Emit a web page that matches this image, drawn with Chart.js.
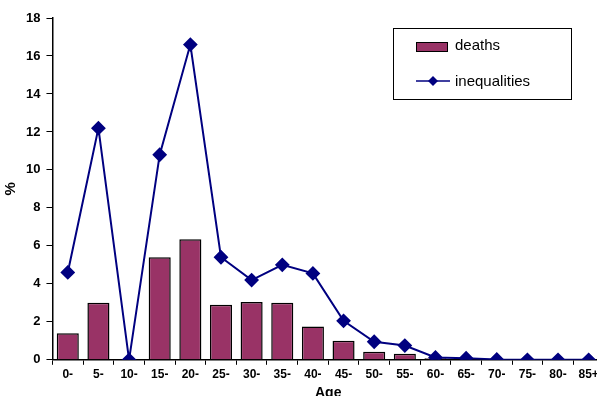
<!DOCTYPE html>
<html>
<head>
<meta charset="utf-8">
<script src="https://cdn.jsdelivr.net/npm/chart.js@4/dist/chart.umd.min.js"></script>
<style>
    html, body { margin: 0; padding: 0; background: #fff; overflow: hidden; }
    #wrap { position: relative; width: 612px; height: 402px; }
</style>
</head>
<body>
<div id="wrap"><canvas id="ageChart" width="612" height="402"></canvas></div>
<script>
var ageGroups = ['0-', '5-', '10-', '15-', '20-', '25-', '30-', '35-', '40-', '45-', '50-', '55-', '60-', '65-', '70-', '75-', '80-', '85+'];
var deaths = [1.4, 3.0, 0, 5.4, 6.35, 2.9, 3.05, 3.0, 1.75, 1.0, 0.42, 0.32, 0.08, 0.03, 0, 0, 0, 0];
var inequalities = [4.6, 12.2, 0, 10.8, 16.6, 5.4, 4.2, 5.0, 4.55, 2.05, 0.95, 0.75, 0.12, 0.08, 0.02, 0, 0, 0];
var yTicks = [0, 2, 4, 6, 8, 10, 12, 14, 16, 18];

// legend box drawn inside the plot, like the original
var boxLegend = {
    id: 'boxLegend',
    afterDraw: function(chart) {
        var ctx = chart.ctx;
        var ds = chart.data.datasets;
        ctx.save();
        ctx.strokeStyle = '#000';
        ctx.lineWidth = 1;
        ctx.strokeRect(393.5, 28.5, 178, 71);
        ctx.font = '15px "Liberation Sans", Arial, sans-serif';
        ctx.textBaseline = 'middle';
        // bars
        ctx.fillStyle = ds[1].backgroundColor;
        ctx.fillRect(416, 42, 32, 10);
        ctx.strokeRect(416.5, 42.5, 31, 9);
        ctx.fillStyle = '#000';
        ctx.fillText(ds[1].label, 455, 46);
        // line
        ctx.strokeStyle = ds[0].borderColor;
        ctx.lineWidth = 1.5;
        ctx.beginPath();
        ctx.moveTo(416, 81);
        ctx.lineTo(450, 81);
        ctx.stroke();
        ctx.fillStyle = ds[0].borderColor;
        ctx.beginPath();
        ctx.moveTo(433, 76); ctx.lineTo(438, 81); ctx.lineTo(433, 86); ctx.lineTo(428, 81);
        ctx.closePath();
        ctx.fill();
        ctx.fillStyle = '#000';
        ctx.fillText(ds[0].label, 455, 82);
        ctx.restore();
    }
};

document.addEventListener('DOMContentLoaded', function() {
    var ctx = document.getElementById('ageChart').getContext('2d');
    var chart = new Chart(ctx, {
        type: 'bar',
        data: {
            labels: ageGroups,
            datasets: [{
                type: 'line',
                label: 'inequalities',
                data: inequalities,
                borderColor: '#000080',
                backgroundColor: '#000080',
                borderWidth: 2,
                pointStyle: 'rectRot',
                pointRadius: 6,
                pointHoverRadius: 6,
                tension: 0,
                order: 0
            }, {
                label: 'deaths',
                data: deaths,
                backgroundColor: '#993366',
                borderColor: '#000',
                borderWidth: 1.5,
                barPercentage: 0.72,
                categoryPercentage: 1,
                order: 1
            }]
        },
        options: {
            responsive: false,
            animation: false,
            layout: { padding: { left: 0, top: 18, right: 6, bottom: 0 } },
            plugins: {
                legend: { display: false },
                tooltip: { enabled: false }
            },
            scales: {
                x: {
                    grid: { display: true, drawOnChartArea: false, offset: true, color: '#000', tickLength: 5 },
                    border: { display: true, color: '#000', width: 1.5 },
                    ticks: {
                        color: '#000',
                        font: { family: '"Liberation Sans", Arial, sans-serif', size: 12, weight: 'bold' },
                        maxRotation: 0, autoSkip: false, padding: 3
                    },
                    title: {
                        display: true, text: 'Age', color: '#000', padding: { top: 0, bottom: 0 },
                        font: { family: '"Liberation Sans", Arial, sans-serif', size: 14, weight: 'bold' }
                    }
                },
                y: {
                    min: 0, max: 18,
                    afterBuildTicks: function(axis) {
                        axis.ticks = yTicks.map(function(v) { return { value: v }; });
                    },
                    grid: { display: true, drawOnChartArea: false, color: '#000', tickLength: 6 },
                    border: { display: true, color: '#000', width: 1.5 },
                    ticks: {
                        color: '#000', padding: 6,
                        font: { family: '"Liberation Sans", Arial, sans-serif', size: 13, weight: 'bold' }
                    },
                    title: {
                        display: true, text: '%', color: '#000', padding: { top: 2, bottom: 0 },
                        font: { family: '"Liberation Sans", Arial, sans-serif', size: 15, weight: 'bold' }
                    }
                }
            }
        },
        plugins: [boxLegend]
    });
});
</script>
</body>
</html>
